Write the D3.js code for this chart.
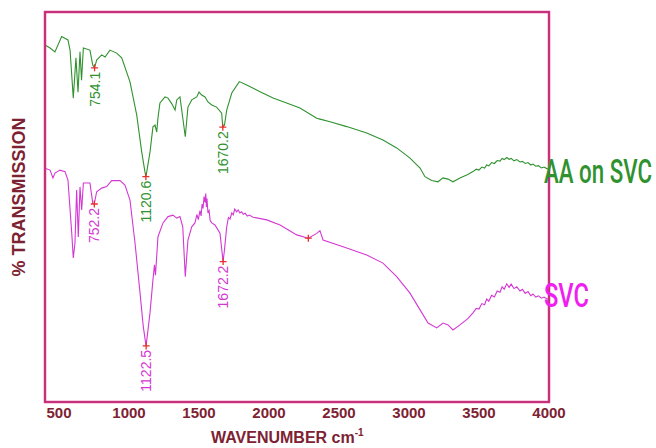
<!DOCTYPE html>
<html>
<head>
<meta charset="utf-8">
<script src="https://cdn.jsdelivr.net/npm/d3@7"></script>
<style>
  body { margin: 0; background: #fff; }
  svg { display: block; }
</style>
</head>
<body>
<svg id="chart" width="656" height="448"></svg>
<script>
const width = 656;
const height = 448;

// spectra: [wavenumber, transmission (offset units)]
const aaSpectrum = [
  [400,119],[436,118],[471,116.7],[519,121.8],[564,120.7],[579,117.3],[602,101.3],[621,114.7],
  [636,103.3],[650,116.7],[661,107.3],[674,118],[721,117.3],[741,112.3],[754,111.4],[769,114],
  [805,115.7],[829,115],[864,117.3],[912,116.3],[948,114.7],[1007,106.7],[1055,95.7],[1091,83.3],
  [1114,76.7],[1121,75.1],[1150,83.3],[1171,91.7],[1186,92.3],[1198,90],[1207,94.7],[1221,99.7],
  [1257,101.7],[1279,101.3],[1307,99.3],[1329,97.3],[1341,100.7],[1364,101.7],[1386,94],[1402,88.4],
  [1421,98.3],[1448,100.7],[1484,101.7],[1500,103.3],[1519,102.3],[1543,101.7],[1564,100],[1591,99],
  [1626,98.3],[1662,96.3],[1670,91.6],[1682,92.3],[1698,97.3],[1734,103],[1788,106.8],[1841,105.7],
  [1936,103.4],[2029,101.3],[2126,99.7],[2221,98],[2341,94.6],[2364,94.3],[2436,93.4],[2555,91.8],
  [2698,89.7],[2814,87.3],[2912,84.7],[3007,81.3],[3079,78],[3114,75.1],[3162,73.8],[3207,73.4],
  [3243,74.7],[3279,74.3],[3314,73.4],[3364,74.7],[3420,75.8],[3457,76.8],[3480,77.6],[3500,77.3],
  [3520,78.3],[3540,78],[3555,79],[3570,78.7],[3590,79.8],[3610,79.5],[3630,80.5],[3650,80.3],
  [3665,81.2],[3680,80.8],[3698,81.5],[3715,80.9],[3730,81.2],[3750,80.4],[3770,80.8],[3793,80],
  [3810,80.2],[3830,79.5],[3850,79.8],[3870,79],[3886,79.3],[3905,78.6],[3925,78.8],[3945,78],
  [3965,78.3],[3984,77.8],[4000,77.7]
];

const svcSpectrum = [
  [400,77.9],[436,77.3],[457,74.7],[471,76.3],[507,77.3],[543,76.8],[564,74],[591,56.3],[602,48],
  [614,53],[626,70.7],[638,55],[650,71.7],[662,64],[674,73],[721,73],[741,66.3],[752,66],[769,70.1],
  [805,71.3],[841,71.8],[876,73.8],[936,73.8],[971,72.3],[1007,67.3],[1043,53],[1079,36.3],[1102,25.1],
  [1122,18.7],[1150,29.7],[1171,40.7],[1182,45.7],[1189,42.3],[1207,55.1],[1243,59.7],[1279,61.8],
  [1314,62.3],[1341,61.3],[1364,61.8],[1384,58.4],[1402,41.8],[1421,54],[1448,58.4],[1471,59.7],
  [1485,62.5],[1495,60.8],[1507,63.8],[1515,62],[1522,66],[1529,64.5],[1536,68.5],[1543,66.5],
  [1548,69.5],[1553,65],[1557,67.8],[1564,63],[1572,63.8],[1580,60.5],[1591,59.7],[1614,59],
  [1650,56.3],[1672,46.8],[1682,50.7],[1698,58.4],[1710,61.5],[1722,61],[1734,63],[1745,62.4],
  [1755,64.3],[1769,63.4],[1780,64],[1792,63],[1805,63.4],[1816,62.6],[1830,62.9],[1845,62],
  [1860,62.3],[1886,61.6],[1984,60.7],[2079,59],[2198,55.7],[2281,54.6],[2341,56.2],[2364,57.1],
  [2386,54],[2555,51.3],[2698,49],[2814,46.3],[2912,41.8],[3007,36.3],[3079,30.7],[3136,26.3],
  [3198,24.7],[3243,26.3],[3279,25.7],[3314,24],[3364,25.7],[3420,27.8],[3457,29.7],[3480,31.2],
  [3500,31],[3520,32.8],[3540,32.4],[3555,34.3],[3570,33.6],[3590,35.6],[3610,35],[3630,37],
  [3650,36.6],[3665,38.4],[3680,37.6],[3698,39.4],[3715,38.2],[3730,39.3],[3750,37.8],[3770,38.4],
  [3793,37],[3810,37.6],[3830,36.2],[3850,36.8],[3870,35.4],[3886,36],[3905,35],[3925,35.4],
  [3945,34.6],[3965,35],[3984,34.4],[4000,34.3]
];

// labelled peaks: [wavenumber, transmission, label]
const aaPeaks = [[754.1,111.4,"754.1"],[1120.6,75.1,"1120.6"],[1670.2,91.6,"1670.2"]];
const svcPeaks = [[752.2,66,"752.2"],[1122.5,18.7,"1122.5"],[1672.2,46.8,"1672.2"],[2281,54.6,""]];

const xTicks = [500,1000,1500,2000,2500,3000,3500,4000];
const seriesNames = ["AA on SVC","SVC"];

const green = "#2f922f";
const magenta = "#d438d4";
const axisRed = "#7d2232";

const svg = d3.select("#chart");
svg.append("rect").attr("width",width).attr("height",height).attr("fill","#fff");

const x = d3.scaleLinear().domain([400,4000]).range([45,549]);
const y = d3.scaleLinear().domain([0,130]).range([402,12]);

// spectra
const line = d3.line().x(d=>x(d[0])).y(d=>y(d[1]));
svg.append("path").datum(aaSpectrum).attr("d",line)
  .attr("fill","none").attr("stroke",green).attr("stroke-width",1.1);
svg.append("path").datum(svcSpectrum).attr("d",line)
  .attr("fill","none").attr("stroke",magenta).attr("stroke-width",1.1);

// frame
svg.append("rect").attr("x",45).attr("y",12).attr("width",504).attr("height",390)
  .attr("fill","none").attr("stroke","#e0398e").attr("stroke-width",2.5);
svg.append("rect").attr("x",45).attr("y",12).attr("width",504).attr("height",390)
  .attr("fill","none").attr("stroke","#a3245f").attr("stroke-width",0.8);

// peak markers and labels
function drawPeaks(peaks,color){
  const g = svg.append("g");
  peaks.forEach(p=>{
    const px = x(p[0]), py = y(p[1]);
    g.append("path").attr("d",`M${px-3.5},${py}H${px+3.5}M${px},${py-3.5}V${py+3.5}`)
      .attr("stroke","#e8302c").attr("stroke-width",1.3);
    if(p[2]){
      g.append("text")
        .attr("transform",`translate(${px+5},${py+4}) rotate(-90)`)
        .attr("text-anchor","end")
        .attr("font-family","Liberation Sans, Arial, sans-serif")
        .attr("font-size",14)
        .attr("fill",color)
        .text(p[2]);
    }
  });
}
drawPeaks(aaPeaks,green);
drawPeaks(svcPeaks,magenta);

// x tick labels
svg.append("g").selectAll("text").data(xTicks).enter().append("text")
  .attr("x",d=>x(d)).attr("y",418)
  .attr("text-anchor","middle")
  .attr("font-family","Liberation Sans, Arial, sans-serif")
  .attr("font-weight","bold").attr("font-size",15)
  .attr("fill",axisRed)
  .text(d=>d);

// axis titles
const xt = svg.append("text").attr("x",211).attr("y",443)
  .attr("font-family","Liberation Sans, Arial, sans-serif")
  .attr("font-weight","bold").attr("font-size",16).attr("fill",axisRed);
xt.append("tspan").text("WAVENUMBER cm");
xt.append("tspan").attr("font-size",10).attr("dy",-7).text("-1");

svg.append("text")
  .attr("transform","translate(25,197) rotate(-90)")
  .attr("text-anchor","middle")
  .attr("font-family","Liberation Sans, Arial, sans-serif")
  .attr("font-weight","bold").attr("font-size",18).attr("fill",axisRed)
  .text("% TRANSMISSION");

// series labels at right end, squeezed horizontally like the condensed original
const labelColors = [green,"#f01ef0"];
const labelWidths = [108,45];
const labelBase = [183,307];
seriesNames.forEach((name,i)=>{
  const t = svg.append("text")
    .attr("font-family","Roboto, sans-serif")
    .attr("font-weight",500)
    .attr("font-size",34)
    .attr("fill",labelColors[i])
    .text(name);
  const w = t.node().getComputedTextLength();
  t.attr("transform",`translate(544,${labelBase[i]}) scale(${labelWidths[i]/w},1)`);
});
</script>
</body>
</html>
